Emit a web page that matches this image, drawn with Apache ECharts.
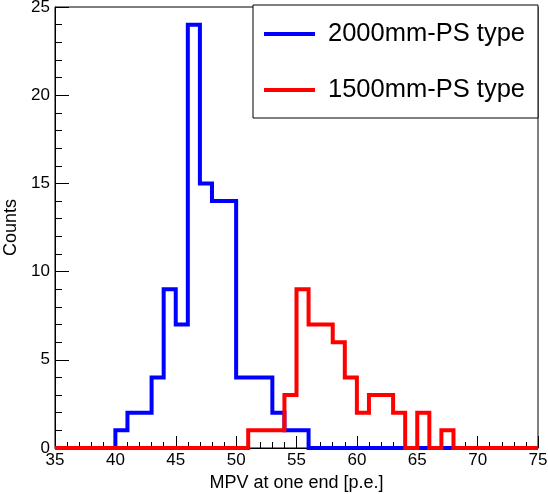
<!DOCTYPE html>
<html>
<head>
<meta charset="utf-8">
<script src="https://cdn.jsdelivr.net/npm/echarts@6/dist/echarts.min.js"></script>
<style>
html,body{margin:0;padding:0;background:#fff;}
#c{width:548px;height:494px;}
</style>
</head>
<body>
<div id="c"></div>
<script>
// Bin low edges (bin width 1)
var binLow = [35,36,37,38,39,40,41,42,43,44,45,46,47,48,49,50,51,52,53,54,
              55,56,57,58,59,60,61,62,63,64,65,66,67,68,69,70,71,72,73,74];
var binWidth = 1;
// 2000mm-PS type counts
var counts2000 = [0,0,0,0,0,1,2,2,4,9,7,24,15,14,14,4,4,4,2,1,
                  1,0,0,0,0,0,0,0,0,0,0,0,0,0,0,0,0,0,0,0];
// 1500mm-PS type counts
var counts1500 = [0,0,0,0,0,0,0,0,0,0,0,0,0,0,0,0,1,1,1,3,
                  9,7,7,6,4,2,3,3,2,0,2,0,1,0,0,0,0,0,0,0];
var seriesNames = ['2000mm-PS type', '1500mm-PS type'];
var xTitle = 'MPV at one end [p.e.]';
var yTitle = 'Counts';

function stepData(counts) {
  var d = [];
  for (var i = 0; i < binLow.length; i++) {
    d.push([binLow[i], counts[i]]);
    d.push([binLow[i] + binWidth, counts[i]]);
  }
  return d;
}

var font = 'Liberation Sans, Arial, Helvetica, sans-serif';
var chart = echarts.init(document.getElementById('c'), null, {renderer: 'canvas'});
chart.setOption({
  animation: false,
  backgroundColor: '#fff',
  grid: {left: 55, right: 10, top: 7, bottom: 46, containLabel: false, outerBoundsMode: 'none',
         show: true, borderColor: '#000', borderWidth: 1, backgroundColor: 'transparent'},
  legend: {
    orient: 'vertical', left: 253, top: 5,
    data: seriesNames,
    icon: 'rect', itemWidth: 51, itemHeight: 4, itemGap: 30,
    borderColor: '#000', borderWidth: 1, backgroundColor: '#fff',
    padding: [16, 13, 15, 11],
    textStyle: {fontFamily: font, fontSize: 25.5, lineHeight: 26, color: '#000', padding: [0, 0, 0, 8]}
  },
  xAxis: {
    type: 'value', min: 35, max: 75, interval: 5,
    name: xTitle, nameLocation: 'middle', nameGap: 19,
    nameTextStyle: {fontFamily: font, fontSize: 18, color: '#000'},
    axisLine: {show: true, onZero: false, lineStyle: {color: '#000', width: 1}},
    axisTick: {show: true, inside: true, length: 12, lineStyle: {color: '#000'}},
    minorTick: {show: true, splitNumber: 5, length: 6, lineStyle: {color: '#000'}},
    splitLine: {show: false},
    axisLabel: {fontFamily: font, fontSize: 17, color: '#000', margin: 4}
  },
  yAxis: {
    type: 'value', min: 0, max: 25, interval: 5,
    name: yTitle, nameLocation: 'middle', nameGap: 30, nameRotate: 90,
    nameTextStyle: {fontFamily: font, fontSize: 18, color: '#000'},
    axisLine: {show: true, lineStyle: {color: '#000', width: 1}},
    axisTick: {show: true, inside: true, length: 14, lineStyle: {color: '#000'}},
    minorTick: {show: true, splitNumber: 5, length: 7, lineStyle: {color: '#000'}},
    splitLine: {show: false},
    axisLabel: {fontFamily: font, fontSize: 17, color: '#000', margin: 5}
  },
  series: [
    {name: seriesNames[0], type: 'line', data: stepData(counts2000), showSymbol: false, clip: false,
     color: '#0000ff', lineStyle: {color: '#0000ff', width: 4, cap: 'butt', join: 'miter'}, z: 3},
    {name: seriesNames[1], type: 'line', data: stepData(counts1500), showSymbol: false, clip: false,
     color: '#ff0000', lineStyle: {color: '#ff0000', width: 4, cap: 'butt', join: 'miter'}, z: 4}
  ]
});
</script>
</body>
</html>
